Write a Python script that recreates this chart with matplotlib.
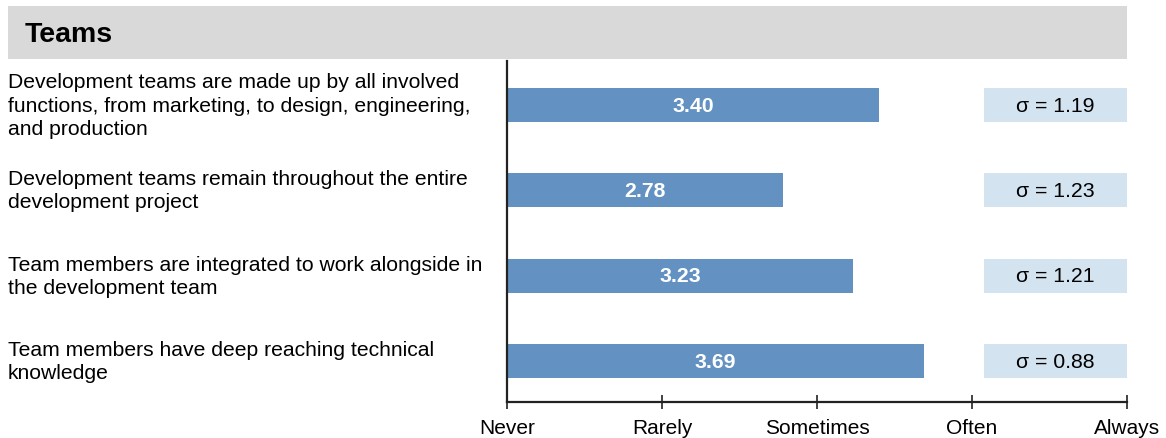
import matplotlib
matplotlib.use("Agg")
import matplotlib.pyplot as plt
from matplotlib.patches import Rectangle
from matplotlib.transforms import blended_transform_factory

plt.rcParams['font.family'] = ['Liberation Sans', 'DejaVu Sans']

title = "Teams"
statements = [
    "Development teams are made up by all involved\nfunctions, from marketing, to design, engineering,\nand production",
    "Development teams remain throughout the entire\ndevelopment project",
    "Team members are integrated to work alongside in\nthe development team",
    "Team members have deep reaching technical\nknowledge",
]
means = [3.40, 2.78, 3.23, 3.69]
sigmas = [1.19, 1.23, 1.21, 0.88]
scale_labels = ["Never", "Rarely", "Sometimes", "Often", "Always"]
scale_values = [1, 2, 3, 4, 5]

W, H = 1166, 439
fig = plt.figure(figsize=(W / 100, H / 100), dpi=100)

# title band
fig.patches.append(Rectangle((8 / W, 1 - 60 / H), (1127 - 8) / W, 53 / H,
                             transform=fig.transFigure, facecolor='#D9D9D9',
                             edgecolor='none', zorder=0))
fig.text(25 / W, 1 - 35 / H, title, fontsize=20.5, fontweight='bold',
         va='center', ha='left', color='black')

ax = fig.add_axes([507 / W, (H - 403) / H, (1127 - 507) / W, (403 - 62) / H])
ypos = list(range(len(means)))
bar_color = '#6391C1'
ax.barh(ypos, [m - 1 for m in means], left=1, height=0.4, color=bar_color, zorder=2)
for y, m in zip(ypos, means):
    ax.text(1 + (m - 1) / 2, y, f"{m:.2f}", ha='center', va='center',
            color='white', fontsize=15.3, fontweight='bold', zorder=3)

# sigma boxes
box_left = 1 + (984 - 507) / 155
ax.barh(ypos, [5 - box_left] * len(ypos), left=box_left, height=0.4,
        color='#D3E3F0', zorder=2, clip_on=False)
for y, s in zip(ypos, sigmas):
    ax.text(box_left + (5 - box_left) / 2, y, f"σ = {s:.2f}", ha='center',
            va='center', color='black', fontsize=15.3, zorder=3)

ax.set_xlim(1, 5)
ax.set_ylim(3.48, -0.516)
ax.set_xticks(scale_values)
ax.set_xticklabels(scale_labels, fontsize=15)
ax.set_yticks([])
for sp in ['top', 'right']:
    ax.spines[sp].set_visible(False)
for sp in ['left', 'bottom']:
    ax.spines[sp].set_linewidth(1.6)
    ax.spines[sp].set_color('#222222')
ax.tick_params(axis='x', direction='inout', length=10, width=1.2,
               color='#222222', pad=6.5)
ax.patch.set_alpha(0)

trans = blended_transform_factory(fig.transFigure, ax.transData)
for y, s in zip(ypos, statements):
    fig.text(8 / W, y, s, transform=trans, ha='left', va='center',
             fontsize=15.2, linespacing=1.27, color='black')

fig.savefig("out.png", dpi=100)
